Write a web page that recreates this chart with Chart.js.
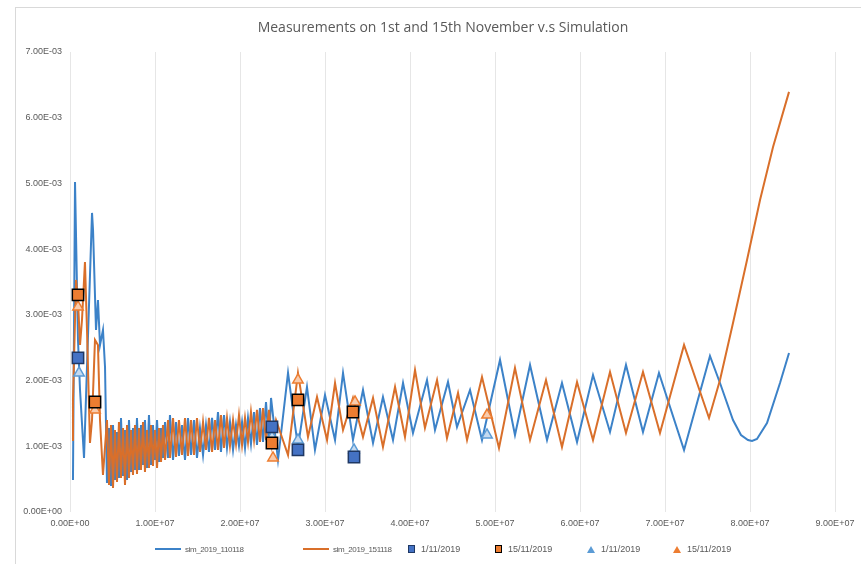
<!DOCTYPE html>
<html>
<head>
<meta charset="utf-8">
<script src="https://cdn.jsdelivr.net/npm/chart.js@4.4.0/dist/chart.umd.min.js"></script>
<style>
    body { margin: 0; background: #fff; overflow: hidden; }
    #frame { position: absolute; left: 15px; top: 7px; width: 846px; height: 557px;
             border-left: 1px solid #d9d9d9; border-top: 1px solid #d9d9d9; }
    #chart { position: absolute; left: 0; top: 0; }
    #title { position: absolute; left: 0; top: 17px; width: 886px; text-align: center;
             font: 14px "Open Sans", sans-serif; line-height: 19px; color: #595959; }
    #legend { position: absolute; top: 543px; left: 0; width: 861px; height: 12px;
              font: 9px "Liberation Sans", sans-serif; color: #595959; white-space: nowrap; }
    .item { position: absolute; top: 0; display: flex; align-items: center; height: 12px; }
    .icon { margin-right: 4px; }
    .narrow { font-size: 8px; letter-spacing: -0.4px; }
</style>
</head>
<body>
<div id="frame"></div>
<canvas id="chart" width="861" height="564"></canvas>
<div id="title"></div>
<div id="legend"></div>
<script>
// x values in units of 1E+07, y values in units of 1E-03
const X_UNIT = 1e7;
const Y_UNIT = 1e-3;

const titleText = "Measurements on 1st and 15th November v.s Simulation";
const seriesNames = ["sim_2019_110118", "sim_2019_151118", "1/11/2019", "15/11/2019", "1/11/2019", "15/11/2019"];

// simulation 1 (blue)
const sim1X = [0.035, 0.059, 0.094, 0.118, 0.165, 0.259, 0.271, 0.306, 0.329, 0.353, 0.388, 0.412, 0.435,
    0.459, 0.482, 0.506, 0.529, 0.553, 0.576, 0.6, 0.624, 0.647, 0.671, 0.694, 0.718, 0.741, 0.765, 0.788,
    0.812, 0.835, 0.859, 0.882, 0.906, 0.929, 0.953, 0.976, 1.0, 1.024, 1.047, 1.071, 1.094, 1.118,
    1.153, 1.176, 1.212, 1.247, 1.282, 1.318, 1.353, 1.388, 1.424, 1.459, 1.494, 1.529, 1.565, 1.6, 1.635,
    1.671, 1.706, 1.741, 1.776, 1.812, 1.847, 1.882, 1.918, 1.953, 1.988, 2.024, 2.059, 2.094, 2.129, 2.165,
    2.2, 2.235, 2.271, 2.306, 2.341, 2.365,
    2.447, 2.565, 2.682, 2.788, 2.882, 3.0, 3.118, 3.212, 3.329, 3.447, 3.565, 3.682, 3.8, 3.918, 4.035,
    4.2, 4.294, 4.447, 4.553, 4.706, 4.847, 5.059, 5.235, 5.412, 5.612, 5.788, 5.965, 6.153, 6.353, 6.541,
    6.741, 6.929, 7.224, 7.529, 7.647, 7.8, 7.894, 7.976, 8.024, 8.082, 8.2, 8.353, 8.459];
const sim1Y = [0.487, 5.023, 2.618, 1.857, 0.822, 4.551, 4.292, 2.770, 3.227, 2.542, 2.770, 2.207, 0.441,
    1.279, 0.396, 1.324, 0.487, 1.218, 0.518, 1.431, 0.548, 1.248, 0.487, 1.400, 0.609, 1.279, 0.639, 1.431,
    0.639, 1.324, 0.715, 1.400, 0.670, 1.476, 0.715, 1.324, 0.791, 1.400, 0.761, 1.279, 0.822, 1.370,
    0.822, 1.476, 0.791, 1.370, 0.852, 1.324, 0.791, 1.431, 0.868, 1.400, 0.822, 1.279, 0.868, 1.324, 0.913,
    1.431, 0.944, 1.522, 0.913, 1.476, 0.974, 1.370, 0.944, 1.324, 1.005, 1.370, 0.974, 1.431, 1.035, 1.522,
    1.020, 1.583, 1.065, 1.674, 1.020, 1.735,
    0.791, 2.116, 0.989, 1.903, 0.944, 1.781, 1.096, 2.116, 1.096, 1.857, 1.050, 1.750, 1.096, 1.963, 1.202,
    2.009, 1.248, 1.979, 1.294, 1.857, 1.096, 2.314, 1.172, 2.237, 1.096, 1.963, 1.065, 2.085, 1.218, 2.237,
    1.218, 2.116, 0.944, 2.374, 1.963, 1.400, 1.172, 1.096, 1.081, 1.111, 1.355, 1.963, 2.420];

// simulation 2 (orange)
const sim2X = [0.024, 0.035, 0.071, 0.094, 0.118, 0.141, 0.176, 0.2, 0.235, 0.259, 0.294, 0.329, 0.353, 0.388,
    0.435, 0.459, 0.482, 0.506, 0.529, 0.553, 0.576, 0.6, 0.624, 0.647, 0.671, 0.694, 0.718, 0.741, 0.765,
    0.788, 0.812, 0.835, 0.859, 0.882, 0.906, 0.929, 0.953, 0.976, 1.0, 1.024, 1.047, 1.071, 1.094, 1.118,
    1.153, 1.176, 1.212, 1.247, 1.282, 1.318, 1.353, 1.388, 1.424, 1.459, 1.494, 1.529, 1.565, 1.6, 1.635,
    1.671, 1.706, 1.741, 1.776, 1.812, 1.847, 1.882, 1.918, 1.953, 1.988, 2.024, 2.059, 2.094, 2.129, 2.165,
    2.2, 2.235, 2.271, 2.306, 2.341, 2.376, 2.424,
    2.565, 2.682, 2.8, 2.906, 3.024, 3.118, 3.212, 3.329, 3.447, 3.565, 3.682, 3.824, 3.941, 4.059, 4.176,
    4.318, 4.435, 4.565, 4.671, 4.847, 5.047, 5.235, 5.412, 5.6, 5.788, 5.965, 6.153, 6.353, 6.541, 6.741,
    6.941, 7.224, 7.518, 7.647, 7.8, 7.965, 8.118, 8.271, 8.459];
const sim2Y = [1.096, 1.705, 3.531, 3.227, 2.542, 2.922, 3.805, 2.770, 1.050, 1.400, 2.618, 2.542, 1.400, 0.563,
    1.400, 0.411, 1.324, 0.365, 1.248, 0.457, 1.370, 0.518, 1.279, 0.411, 1.324, 0.518, 1.248, 0.563, 1.324,
    0.578, 1.279, 0.639, 1.370, 0.609, 1.248, 0.670, 1.324, 0.700, 1.248, 0.670, 1.279, 0.761, 1.324, 0.791,
    1.400, 0.822, 1.431, 0.837, 1.400, 0.868, 1.431, 0.852, 1.400, 0.868, 1.431, 0.913, 1.370, 0.944, 1.431,
    0.913, 1.400, 0.944, 1.476, 0.974, 1.431, 1.005, 1.400, 1.035, 1.476, 1.020, 1.431, 1.065, 1.522, 1.096,
    1.553, 1.065, 1.583, 1.096, 1.553, 1.020, 1.400,
    0.868, 2.116, 1.142, 1.750, 1.096, 1.963, 1.248, 1.735, 1.142, 1.735, 0.989, 1.903, 1.142, 2.161, 1.279,
    2.009, 1.126, 1.811, 1.096, 2.055, 0.974, 2.192, 1.096, 2.009, 0.989, 1.979, 1.096, 2.131, 1.202, 2.131,
    1.202, 2.542, 1.431, 2.009, 2.877, 3.836, 4.749, 5.556, 6.393];

// measurements
const sq1X = [0.094, 2.376, 2.682, 3.341];
const sq1Y = [2.344, 1.294, 0.944, 0.837];
const sq15X = [0.094, 0.294, 2.376, 2.682, 3.329];
const sq15Y = [3.303, 1.674, 1.050, 1.705, 1.522];
const tri1X = [0.106, 2.376, 2.682, 3.341, 4.906];
const tri1Y = [2.116, 1.142, 1.096, 0.944, 1.172];
const tri15X = [0.094, 0.294, 2.388, 2.682, 3.353, 4.906];
const tri15Y = [3.120, 1.553, 0.822, 2.009, 1.674, 1.476];

const pts = (xs, ys) => xs.map((x, i) => ({ x: x, y: ys[i] }));

function sci(n) {
    const parts = n.toExponential(2).split('e');
    const sign = parts[1][0];
    const digits = parts[1].slice(1).padStart(2, '0');
    return parts[0] + 'E' + sign + digits;
}

const textColor = '#595959';
const tickFont = { family: 'Liberation Sans', size: 9 };

const datasets = [
    { label: seriesNames[0], data: pts(sim1X, sim1Y), borderColor: '#3c82c8', backgroundColor: '#3c82c8',
      borderWidth: 2, pointRadius: 0, order: 2 },
    { label: seriesNames[1], data: pts(sim2X, sim2Y), borderColor: '#d96f2a', backgroundColor: '#d96f2a',
      borderWidth: 2, pointRadius: 0, order: 1 },
    { label: seriesNames[2], data: pts(sq1X, sq1Y), showLine: false, pointStyle: 'rect', pointRadius: 8,
      backgroundColor: '#4472c4', borderColor: '#1f3864', borderWidth: 1.5, order: 0 },
    { label: seriesNames[3], data: pts(sq15X, sq15Y), showLine: false, pointStyle: 'rect', pointRadius: 8,
      backgroundColor: '#ed7d31', borderColor: '#000000', borderWidth: 1.5, order: 0 },
    { label: seriesNames[4], data: pts(tri1X, tri1Y), showLine: false, pointStyle: 'triangle', pointRadius: 6,
      backgroundColor: '#c5daf0', borderColor: '#5b9bd5', borderWidth: 1.5, order: 0 },
    { label: seriesNames[5], data: pts(tri15X, tri15Y), showLine: false, pointStyle: 'triangle', pointRadius: 6,
      backgroundColor: '#f8cbad', borderColor: '#ed7d31', borderWidth: 1.5, order: 0 }
];

new Chart(document.getElementById('chart'), {
    type: 'line',
    data: { datasets: datasets },
    options: {
        responsive: false,
        animation: false,
        layout: { padding: { left: 0, right: 26, top: 52, bottom: 32 } },
        plugins: {
            legend: { display: false },
            tooltip: { enabled: false },
            title: { display: false }
        },
        scales: {
            x: {
                type: 'linear',
                min: 0, max: 9,
                border: { display: false },
                grid: { color: '#e6e6e6', drawTicks: false },
                ticks: { stepSize: 1, padding: 6, color: textColor, font: tickFont,
                         maxRotation: 0, callback: v => sci(v * X_UNIT) },
                afterFit: s => { s.height = 20; }
            },
            y: {
                min: 0, max: 7,
                border: { display: false },
                grid: { display: false },
                ticks: { stepSize: 1, padding: 0, color: textColor, font: tickFont,
                         callback: v => sci(v * Y_UNIT) },
                afterFit: s => { s.width = 70; }
            }
        }
    }
});

// title (centred on the outer chart frame, as in the original)
document.getElementById('title').textContent = titleText;

// legend
const legendEl = document.getElementById('legend');
const legendLeft = [155, 303, 408, 495, 587, 673];
const icons = [
    '<span class="icon" style="display:inline-block;width:26px;height:2px;background:#3c82c8"></span>',
    '<span class="icon" style="display:inline-block;width:26px;height:2px;background:#d96f2a"></span>',
    '<span class="icon" style="display:inline-block;width:5px;height:6px;background:#4472c4;border:1px solid #1f3864;margin-right:6px"></span>',
    '<span class="icon" style="display:inline-block;width:5px;height:6px;background:#ed7d31;border:1px solid #000;margin-right:6px"></span>',
    '<span class="icon" style="display:inline-block;width:0;height:0;border-left:4px solid transparent;border-right:4px solid transparent;border-bottom:7px solid #5b9bd5;margin-right:6px"></span>',
    '<span class="icon" style="display:inline-block;width:0;height:0;border-left:4px solid transparent;border-right:4px solid transparent;border-bottom:7px solid #ed7d31;margin-right:6px"></span>'
];
seriesNames.forEach((name, i) => {
    const item = document.createElement('div');
    item.className = 'item';
    item.style.left = legendLeft[i] + 'px';
    const cls = i < 2 ? ' class="narrow"' : '';
    item.innerHTML = icons[i] + '<span' + cls + '>' + name + '</span>';
    legendEl.appendChild(item);
});
</script>
</body>
</html>
